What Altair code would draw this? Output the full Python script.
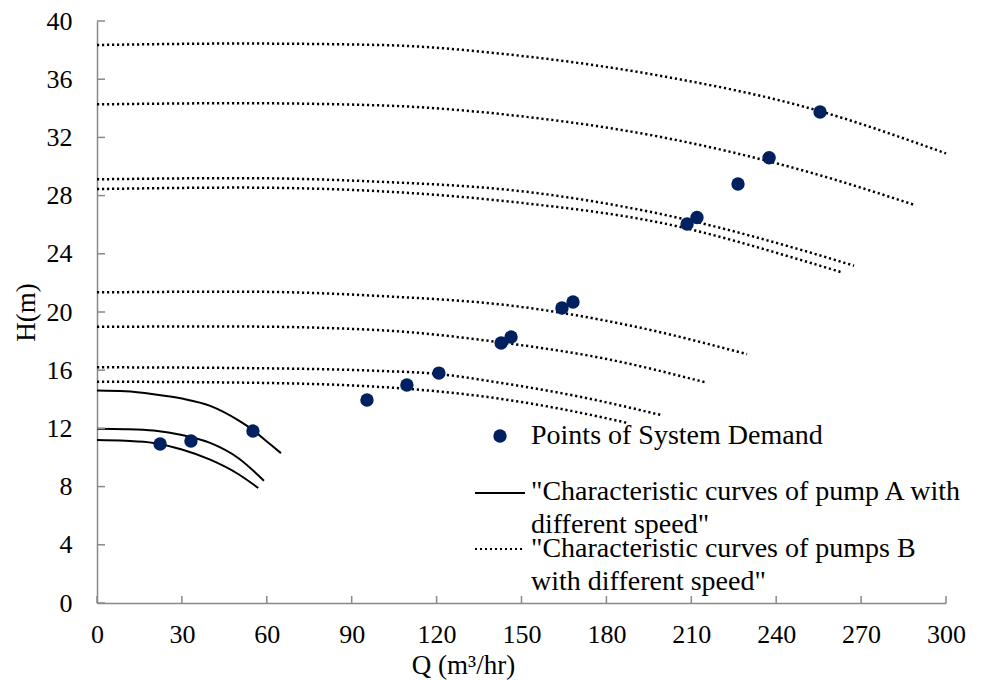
import altair as alt
import pandas as pd

# ---------------- data ----------------
# Pump A characteristic curves (solid)
A1_q = [0, 10, 20, 30, 40, 50, 55, 60, 65]
A1_h = [14.6, 14.55, 14.35, 14.05, 13.55, 12.55, 11.9, 11.1, 10.3]
A2_q = [0, 10, 20, 30, 40, 50, 59]
A2_h = [11.98, 11.95, 11.85, 11.55, 11.0, 9.95, 8.4]
A3_q = [0, 10, 20, 30, 40, 50, 57]
A3_h = [11.2, 11.15, 11.0, 10.55, 9.85, 8.85, 7.9]

# Pump B characteristic curves (dotted)
B1_q = [0, 50, 100, 150, 200, 250, 300]
B1_h = [38.35, 38.45, 38.35, 37.6, 36.2, 34.1, 30.9]
B2_q = [0, 50, 100, 150, 200, 250, 289]
B2_h = [34.27, 34.35, 34.2, 33.45, 32.0, 29.7, 27.35]
B3_q = [0, 50, 100, 150, 200, 250, 267.5]
B3_h = [29.12, 29.2, 28.95, 28.3, 26.7, 24.2, 23.18]
B4_q = [0, 50, 100, 150, 200, 250, 263.6]
B4_h = [28.45, 28.55, 28.3, 27.5, 26.1, 23.5, 22.7]
B5_q = [0, 50, 100, 150, 190, 229.7]
B5_h = [21.35, 21.4, 21.1, 20.35, 19.0, 17.1]
B6_q = [0, 50, 100, 143, 178, 215.5]
B6_h = [18.99, 19.0, 18.75, 17.9, 16.85, 15.14]
B7_q = [0, 50, 100, 120, 142, 170, 199.3]
B7_h = [16.2, 16.15, 15.95, 15.75, 15.15, 14.2, 12.92]
B8_q = [0, 50, 100, 142, 165, 187.6]
B8_h = [15.21, 15.15, 14.85, 14.05, 13.3, 12.37]

# Points of system demand
pts_q = [22.3, 33.2, 55.1, 95.4, 109.5, 120.8, 142.8, 146.3, 164.3, 168.2,
         208.5, 212.0, 226.5, 237.5, 255.5]
pts_h = [10.93, 11.13, 11.82, 13.95, 14.98, 15.8, 17.87, 18.28, 20.27, 20.69,
         26.05, 26.5, 28.8, 30.6, 33.75]

x_ticks = [0, 30, 60, 90, 120, 150, 180, 210, 240, 270, 300]
y_ticks = [0, 4, 8, 12, 16, 20, 24, 28, 32, 36, 40]

legend_points = "Points of System Demand"
legend_a = "\"Characteristic curves of pump A with\ndifferent speed\""
legend_b = "\"Characteristic curves of pumps B\nwith different speed\""

# ---------------- tables ----------------
rows = []
for name, pump, qs, hs in [
    ("A1", "A", A1_q, A1_h), ("A2", "A", A2_q, A2_h), ("A3", "A", A3_q, A3_h),
    ("B1", "B", B1_q, B1_h), ("B2", "B", B2_q, B2_h), ("B3", "B", B3_q, B3_h),
    ("B4", "B", B4_q, B4_h), ("B5", "B", B5_q, B5_h), ("B6", "B", B6_q, B6_h),
    ("B7", "B", B7_q, B7_h), ("B8", "B", B8_q, B8_h),
]:
    for q, h in zip(qs, hs):
        rows.append({"curve": name, "pump": pump, "Q": q, "H": h})
curves = pd.DataFrame(rows)
pts = pd.DataFrame({"Q": pts_q, "H": pts_h})
xt = pd.DataFrame({"Q": x_ticks})
yt = pd.DataFrame({"H": y_ticks})

FONT = "Liberation Serif, Times New Roman, serif"
NAVY = "#002060"
AXIS_GRAY = "#898989"

xscale = alt.Scale(domain=[0, 300], nice=False, zero=False)
yscale = alt.Scale(domain=[0, 40], nice=False, zero=False)

xaxis = alt.Axis(values=x_ticks, grid=False, ticks=False, tickSize=0,
                 domainColor=AXIS_GRAY, domainWidth=1.5,
                 labelFont=FONT, labelFontSize=26, labelColor="black",
                 labelPadding=18, labelFlush=False,
                 title="Q (m³/hr)", titleFont=FONT, titleFontSize=27,
                 titleFontWeight="normal", titleColor="black",
                 titleX=366, titleY=70, titleAlign="center",
                 titleBaseline="alphabetic")
yaxis = alt.Axis(values=y_ticks, grid=False, ticks=False, tickSize=0,
                 domainColor=AXIS_GRAY, domainWidth=1.5,
                 labelFont=FONT, labelFontSize=26, labelColor="black",
                 labelPadding=25, labelFlush=False,
                 title="H(m)", titleFont=FONT, titleFontSize=27,
                 titleFontWeight="normal", titleColor="black",
                 titleX=-63, titleY=291, titleAngle=-90, titleAlign="center",
                 titleBaseline="alphabetic")

base_curves = alt.Chart(curves)

lines_a = base_curves.transform_filter(alt.datum.pump == "A").mark_line(
    color="black", strokeWidth=2, interpolate="monotone"
).encode(
    x=alt.X("Q:Q", scale=xscale, axis=xaxis),
    y=alt.Y("H:Q", scale=yscale, axis=yaxis),
    detail="curve:N",
)

lines_b = base_curves.transform_filter(alt.datum.pump == "B").mark_line(
    color="black", strokeWidth=2.5, strokeDash=[2.2, 2.8], strokeCap="butt",
    interpolate="monotone"
).encode(
    x=alt.X("Q:Q", scale=xscale),
    y=alt.Y("H:Q", scale=yscale),
    detail="curve:N",
)

points = alt.Chart(pts).mark_circle(size=180, color=NAVY, opacity=1).encode(
    x=alt.X("Q:Q", scale=xscale),
    y=alt.Y("H:Q", scale=yscale),
)

# inward ticks
xticks_layer = alt.Chart(xt).mark_rule(color=AXIS_GRAY, strokeWidth=1.5).encode(
    x=alt.X("Q:Q", scale=xscale),
    y=alt.value(582), y2=alt.value(575),
)
yticks_layer = alt.Chart(yt).mark_rule(color=AXIS_GRAY, strokeWidth=1.5).encode(
    y=alt.Y("H:Q", scale=yscale),
    x=alt.value(0), x2=alt.value(8),
)

# manual legend
one = alt.Data(values=[{"k": 1}])
leg_dot = alt.Chart(one).mark_circle(size=180, color=NAVY, opacity=1).encode(
    x=alt.value(403), y=alt.value(415))
leg_t1 = alt.Chart(one).mark_text(
    text=legend_points, font=FONT, fontSize=28, align="left",
    baseline="alphabetic", color="black").encode(
    x=alt.value(434), y=alt.value(423))
leg_line_a = alt.Chart(one).mark_rule(color="black", strokeWidth=2).encode(
    x=alt.value(378), x2=alt.value(428), y=alt.value(472))
leg_t2 = alt.Chart(one).mark_text(
    text=legend_a, font=FONT, fontSize=28, align="left", lineBreak="\n",
    lineHeight=33, baseline="alphabetic", color="black").encode(
    x=alt.value(434), y=alt.value(479))
leg_line_b = alt.Chart(one).mark_rule(
    color="black", strokeWidth=2, strokeDash=[2, 3], strokeCap="butt").encode(
    x=alt.value(378), x2=alt.value(426), y=alt.value(528))
leg_t3 = alt.Chart(one).mark_text(
    text=legend_b, font=FONT, fontSize=28, align="left", lineBreak="\n",
    lineHeight=33, baseline="alphabetic", color="black").encode(
    x=alt.value(434), y=alt.value(536))

chart = alt.layer(
    lines_a, lines_b, points, xticks_layer, yticks_layer,
    leg_dot, leg_t1, leg_line_a, leg_t2, leg_line_b, leg_t3,
).properties(
    width=849, height=582,
    autosize=alt.AutoSizeParams(type="none"),
    padding={"left": 97, "top": 21, "right": 38, "bottom": 77},
    background="white",
).configure_view(stroke=None)

chart.save("out.html", embed_options={"renderer": "svg", "actions": False})
